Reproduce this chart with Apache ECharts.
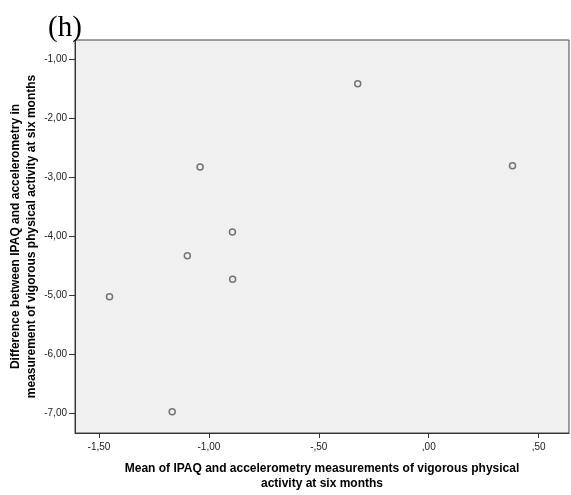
<!DOCTYPE html>
<html>
<head>
<meta charset="utf-8">
<script src="https://cdn.jsdelivr.net/npm/echarts@6/dist/echarts.min.js"></script>
<style>html,body{margin:0;padding:0;background:#fff}#c{width:571px;height:495px}</style>
</head>
<body>
<div id="c"></div>
<script>
// Data
var meanValues = [-0.323, -1.040, 0.381, -0.893, -1.098, -0.892, -1.167, -1.452];
var diffValues = [-1.414, -2.825, -2.803, -3.927, -4.328, -4.729, -6.973, -5.024];
var xTicks = [-1.5, -1.0, -0.5, 0.0, 0.5];
var yTicks = [-1, -2, -3, -4, -5, -6, -7];
var chartTitle = '(h)';
var xName = 'Mean of IPAQ and accelerometry measurements of vigorous physical\nactivity at six months';
var yName = 'Difference between IPAQ and accelerometry in\nmeasurement of vigorous physical activity at six months';

function spssFmt(v) {
  var s = Math.abs(v).toFixed(2).replace('.', ',');
  if (s.charAt(0) === '0') s = s.substring(1);
  return (v < -1e-9 ? '-' : '') + s;
}

var points = meanValues.map(function (m, i) { return [m, diffValues[i]]; });

var chart = echarts.init(document.getElementById('c'), null, { renderer: 'canvas' });
chart.setOption({
  animation: false,
  backgroundColor: '#fff',
  title: {
    text: chartTitle, left: 43, top: 9,
    textStyle: { fontFamily: 'Liberation Serif, Times New Roman, serif', fontSize: 29, fontWeight: 'normal', color: '#000' }
  },
  grid: {
    left: 75, top: 40, right: 2, bottom: 62,
    outerBoundsMode: 'none', containLabel: false,
    show: true, backgroundColor: '#f0f0f0', borderColor: '#444', borderWidth: 1
  },
  xAxis: {
    type: 'value', min: -1.609, max: 0.638,
    name: xName, nameLocation: 'middle', nameGap: 28, nameMoveOverlap: false,
    nameTextStyle: { fontFamily: 'Liberation Sans, Arial, sans-serif', fontSize: 12, fontWeight: 'bold', color: '#000', lineHeight: 15 },
    axisLine: { show: true, onZero: false, lineStyle: { color: '#333', width: 1 } },
    axisTick: { show: true, length: 5, customValues: xTicks, lineStyle: { color: '#333' } },
    axisLabel: { customValues: xTicks, margin: 9, fontFamily: 'Liberation Sans, Arial, sans-serif', fontSize: 10, color: '#222', formatter: spssFmt },
    splitLine: { show: false }
  },
  yAxis: {
    type: 'value', min: -7.334, max: -0.673,
    name: yName, nameLocation: 'middle', nameGap: 35, nameRotate: 90, nameMoveOverlap: false,
    nameTextStyle: { fontFamily: 'Liberation Sans, Arial, sans-serif', fontSize: 12, fontWeight: 'bold', color: '#000', lineHeight: 16 },
    axisLine: { show: true, onZero: false, lineStyle: { color: '#333', width: 1 } },
    axisTick: { show: true, length: 6, customValues: yTicks, lineStyle: { color: '#333' } },
    axisLabel: { customValues: yTicks, margin: 8, fontFamily: 'Liberation Sans, Arial, sans-serif', fontSize: 10, color: '#222', formatter: spssFmt },
    splitLine: { show: false }
  },
  series: [{
    type: 'scatter',
    data: points,
    symbol: 'circle',
    symbolSize: 6,
    itemStyle: { color: 'rgba(0,0,0,0)', borderColor: '#555', borderWidth: 1.5 }
  }]
});
</script>
</body>
</html>
